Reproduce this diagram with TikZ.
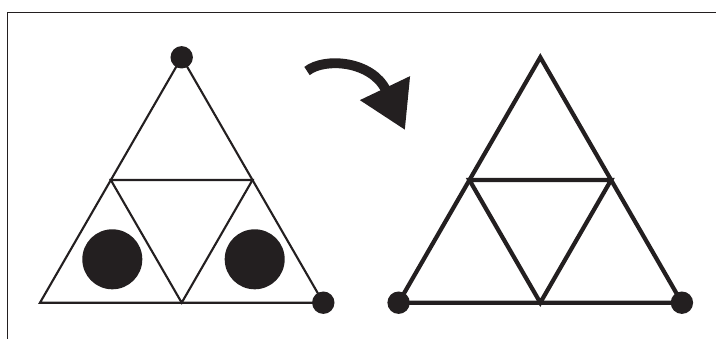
\documentclass[tikz,border=0pt]{standalone}
\usetikzlibrary{arrows.meta}

\definecolor{ink}{HTML}{231F20}

\newcommand*{\picw}{716}
\newcommand*{\pich}{339}
\newcommand*{\trishift}{358.6}

\begin{document}
\begin{tikzpicture}
[
	x=0.025cm, y=-0.025cm,
	thinedge/.style={draw=ink,line width=1.5pt,line join=miter},
	thickedge/.style={draw=ink,line width=3pt,line join=miter},
	vertexdot/.style={circle,fill=ink,inner sep=0pt,minimum size=0.56cm},
	bigdot/.style={circle,fill=ink,inner sep=0pt,minimum size=1.5cm}
]

	\useasboundingbox (0,0) rectangle (\picw,\pich);

	% frame
	\coordinate (fbl) at (7,\pich);
	\coordinate (ftl) at (7,12);
	\coordinate (ftr) at (\picw,12);
	\draw[ink,line width=0.6pt] (fbl) -- (ftl) -- (ftr);

	% left triangle
	\coordinate (apex) at (181.7,57.3);
	\coordinate (left) at (40,302.7);
	\coordinate (right) at (323.3,302.7);
	\coordinate (midl) at (110.8,180);
	\coordinate (midr) at (252.5,180);
	\coordinate (midb) at (181.7,302.7);

	\draw[thinedge] (apex) -- (left) -- (right) -- cycle;
	\draw[thinedge] (midl) -- (midr) -- (midb) -- cycle;

	\node[vertexdot] (dapex) at (apex) {};
	\node[vertexdot] (dright) at (right) {};
	\node[bigdot] (ballL) at (112.3,259.3) {};
	\node[bigdot] (ballR) at (254.7,259.3) {};

	% turning arrow
	\coordinate (tail) at (307,71);
	\coordinate (tip) at (405,130);
	\draw[ink,line width=7pt,-{Triangle[length=1.16cm,width=1.32cm]}]
		(tail) .. controls (325,57) and (372,61) .. (tip);

	% right triangle
	\begin{scope}[shift={(\trishift,0)},name prefix=R-]

	\coordinate (apex) at (181.7,57.3);
	\coordinate (left) at (40,302.7);
	\coordinate (right) at (323.3,302.7);
	\coordinate (midl) at (110.8,180);
	\coordinate (midr) at (252.5,180);
	\coordinate (midb) at (181.7,302.7);

	\draw[thickedge] (apex) -- (left) -- (right) -- cycle;
	\draw[thickedge] (midl) -- (midr) -- (midb) -- cycle;

	\node[vertexdot] (dleft) at (left) {};
	\node[vertexdot] (dright) at (right) {};

	\end{scope}

\end{tikzpicture}
\end{document}
